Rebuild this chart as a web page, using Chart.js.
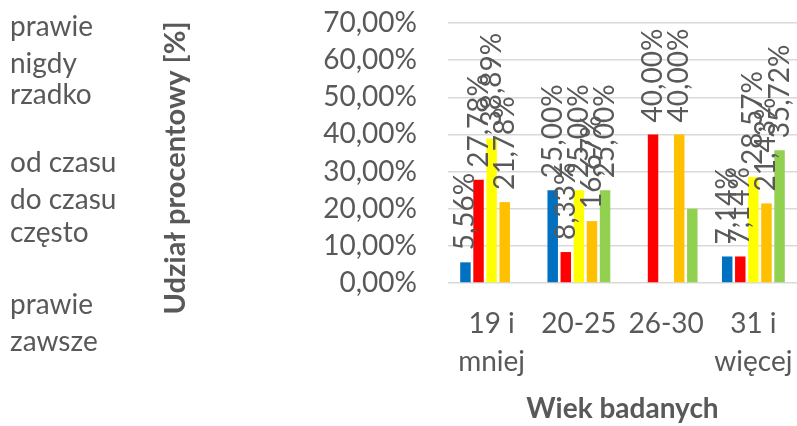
<!DOCTYPE html>
<html>
<head>
<meta charset="utf-8">
<script src="https://cdn.jsdelivr.net/npm/chart.js@4/dist/chart.umd.min.js"></script>
<style>
  html, body { margin: 0; padding: 0; background: #ffffff; }
  #wrap { width: 797px; height: 426px; position: relative; }
</style>
</head>
<body>
<div id="wrap"><canvas id="c"></canvas></div>
<script>
// Age groups (multi-line tick labels)
const categories = [['19 i', 'mniej'], '20-25', '26-30', ['31 i', 'więcej']];
// Answer options, one series each
const seriesNames = ['prawie nigdy', 'rzadko', 'od czasu do czasu', 'często', 'prawie zawsze'];
// Shares in percent per age group
const prawieNigdy    = [5.56, 25.00, 0, 7.14];
const rzadko         = [27.78, 8.33, 40.00, 7.14];
const odCzasuDoCzasu = [38.89, 25.00, 0, 28.57];
const czesto         = [21.78, 16.67, 40.00, 21.43];
const prawieZawsze   = [null, 25.00, 20.00, 35.72];
// Value axis ticks
const yTicks = [0, 10, 20, 30, 40, 50, 60, 70];
// Bars whose value label is not printed: [series, category]
const unlabeled = [[4, 2]];

const seriesValues = [prawieNigdy, rzadko, odCzasuDoCzasu, czesto, prawieZawsze];
const seriesColors = ['#0070C0', '#FF0000', '#FFFF00', '#FFC000', '#92D050'];
const textColor = '#595959';
const FONT = 'Lato, "Open Sans", sans-serif';
const yTitle = 'Udział procentowy [%]';

const fmt = v => v.toFixed(2).replace('.', ',') + '%';

// Value labels, rotated, sitting above each bar
const barLabels = {
  id: 'barLabels',
  afterDatasetsDraw(chart) {
    const ctx = chart.ctx;
    ctx.save();
    ctx.fillStyle = textColor;
    ctx.font = '28px ' + FONT;
    ctx.textAlign = 'left';
    ctx.textBaseline = 'middle';
    chart.data.datasets.forEach((ds, si) => {
      const meta = chart.getDatasetMeta(si);
      meta.data.forEach((el, ci) => {
        const v = ds.data[ci];
        if (v == null || v === 0) return;
        if (unlabeled.some(([s, c]) => s === si && c === ci)) return;
        ctx.save();
        ctx.translate(el.x, el.y - 12);
        ctx.rotate(-Math.PI / 2);
        ctx.fillText(fmt(v), 0, 0);
        ctx.restore();
      });
    });
    ctx.restore();
  }
};

// Value-axis title, rotated, placed in the free band left of the tick labels
const valueAxisTitle = {
  id: 'valueAxisTitle',
  afterDraw(chart, args, opts) {
    const ctx = chart.ctx;
    ctx.save();
    ctx.fillStyle = textColor;
    ctx.font = 'bold ' + opts.size + 'px ' + FONT;
    ctx.textAlign = 'center';
    ctx.textBaseline = 'middle';
    ctx.translate(opts.x, opts.y);
    ctx.rotate(-Math.PI / 2);
    ctx.fillText(opts.text, 0, 0);
    ctx.restore();
  }
};

// Text-only legend in the left column, labels wrapped to the column width
const sideLegend = {
  id: 'sideLegend',
  afterDraw(chart, args, opts) {
    const ctx = chart.ctx;
    ctx.save();
    ctx.fillStyle = textColor;
    ctx.font = opts.fontSize + 'px ' + FONT;
    ctx.textAlign = 'left';
    ctx.textBaseline = 'alphabetic';
    chart.data.datasets.forEach((ds, i) => {
      const words = ds.label.split(' ');
      const lines = [];
      let cur = '';
      words.forEach(w => {
        const t = cur ? cur + ' ' + w : w;
        if (cur && ctx.measureText(t).width > opts.maxWidth) { lines.push(cur); cur = w; }
        else cur = t;
      });
      if (cur) lines.push(cur);
      lines.forEach((ln, k) => ctx.fillText(ln, opts.x, opts.entryY[i] + k * opts.lineGap));
    });
    ctx.restore();
  }
};

new Chart(document.getElementById('c'), {
  type: 'bar',
  data: {
    labels: categories,
    datasets: seriesNames.map((name, i) => ({
      label: name,
      data: seriesValues[i],
      backgroundColor: seriesColors[i],
      borderWidth: 0,
      categoryPercentage: 0.75,
      barPercentage: 0.8
    }))
  },
  options: {
    responsive: true,
    maintainAspectRatio: false,
    animation: false,
    devicePixelRatio: 1,
    layout: { padding: { left: 158, right: -3, top: 23, bottom: 0 } },
    plugins: {
      legend: { display: false },
      tooltip: { enabled: false },
      sideLegend: { x: 10, entryY: [36, 104, 172, 242, 314], lineGap: 37, maxWidth: 125, fontSize: 28 },
      valueAxisTitle: { text: yTitle, x: 176, y: 168, size: 29 }
    },
    scales: {
      x: {
        grid: { display: false, drawTicks: false },
        border: { display: false },
        afterFit: s => { s.paddingLeft = 0; s.paddingRight = 0; s.height = 143; },
        ticks: {
          color: textColor,
          font: { family: FONT, size: 28, lineHeight: 1.36 },
          padding: 22,
          maxRotation: 0,
          autoSkip: false
        },
        title: {
          display: true,
          text: 'Wiek badanych',
          color: textColor,
          font: { family: FONT, size: 28, weight: 'bold', lineHeight: 1.2 },
          padding: { top: 0, bottom: 0 }
        }
      },
      y: {
        min: 0,
        max: 70,
        afterBuildTicks: axis => { axis.ticks = yTicks.map(v => ({ value: v })); },
        afterFit: s => { s.paddingTop = 0; s.paddingBottom = 0; s.width = 290; },
        grid: { color: '#D9D9D9', lineWidth: 1.5, drawTicks: false },
        border: { display: false },
        ticks: {
          color: textColor,
          font: { family: FONT, size: 28 },
          padding: 31,
          autoSkip: false,
          callback: v => fmt(v)
        },
        title: { display: false }
      }
    }
  },
  plugins: [barLabels, sideLegend, valueAxisTitle]
});
</script>
</body>
</html>
